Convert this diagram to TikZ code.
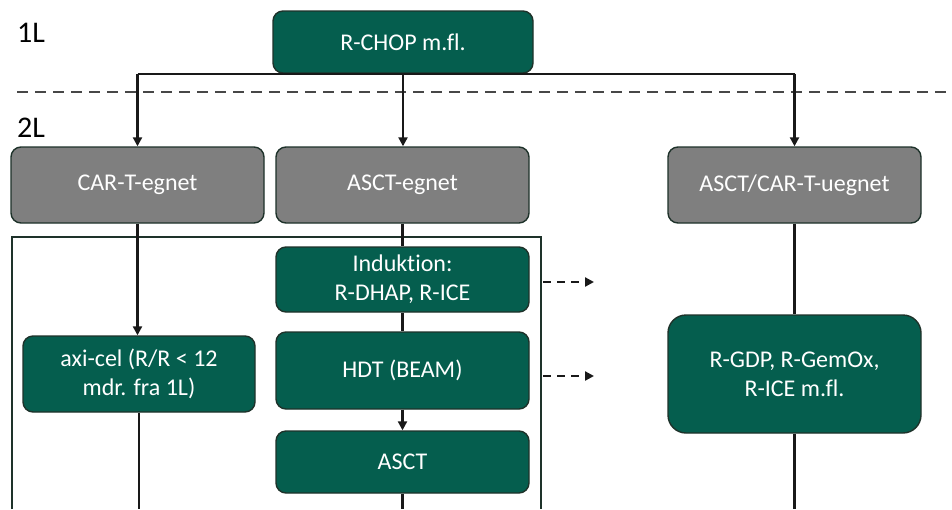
\documentclass[tikz,border=0pt]{standalone}
\usepackage{fontspec}
\setmainfont{Carlito}[Ligatures=NoCommon]
\usetikzlibrary{arrows.meta}
\definecolor{boxgreen}{RGB}{5,94,78}
\definecolor{boxgray}{RGB}{127,127,127}
\definecolor{edgedark}{RGB}{30,50,42}
\definecolor{linedark}{RGB}{25,25,25}
\tikzset{
  greenbox/.style={draw=edgedark, line width=1.4pt, fill=boxgreen, rounded corners=10pt,
    text=white, align=center, inner sep=2pt, font=\fontsize{24}{29}\selectfont},
  graybox/.style={draw=edgedark, line width=1.4pt, fill=boxgray, rounded corners=10pt,
    text=white, align=center, inner sep=2pt, font=\fontsize{24}{29}\selectfont},
  conn/.style={draw=linedark, line width=2.2pt},
  arr/.style={conn, -{Triangle[width=9pt,length=9pt]}},
  darr/.style={conn, dashed, dash pattern=on 8pt off 6pt, -{Triangle[width=9pt,length=9pt]}},
  level/.style={font=\fontsize{30}{33}\selectfont, text=black, anchor=west, inner sep=0pt},
}
\begin{document}
\begin{tikzpicture}[x=1pt,y=-1pt]
\useasboundingbox[fill=white] (0,0) rectangle (952,509);
% level labels
\node[level] (l1) at (17,33) {1L};
\node[level] (l2) at (17,128) {2L};
% dashed level separator
\coordinate (sepL) at (17,92);
\coordinate (sepR) at (952,92);
\draw[conn, dashed, dash pattern=on 11pt off 7pt, line width=1.8pt, draw=linedark!80] (sepL) -- (sepR);
% outlined group
\coordinate (gBL) at (12,509);
\coordinate (gTL) at (12,237);
\coordinate (gTR) at (541,237);
\coordinate (gBR) at (541,509);
\draw[draw=edgedark, line width=1.8pt] (gBL) -- (gTL) -- (gTR) -- (gBR);
% nodes
\node[greenbox, minimum width=260pt, minimum height=62pt] (rchop) at (403,42) {R-CHOP m.fl.};
\node[graybox, minimum width=253pt, minimum height=76pt] (car) at (137.5,185) {CAR-T-egnet};
\node[graybox, minimum width=253pt, minimum height=76pt] (asctE) at (402.5,185) {ASCT-egnet};
\node[graybox, minimum width=253pt, minimum height=76pt] (ueg) at (794.5,185) {ASCT/CAR-T-uegnet};
\node[greenbox, minimum width=253pt, minimum height=65pt] (ind) at (402.5,279.5) {Induktion:\\R-DHAP, R-ICE};
\node[greenbox, minimum width=253pt, minimum height=77pt] (hdt) at (402.5,370.5) {HDT (BEAM)};
\node[greenbox, minimum width=253pt, minimum height=62pt] (asct) at (402.5,462) {ASCT};
\node[greenbox, minimum width=232pt, minimum height=76pt] (axi) at (139,374) {axi-cel (R/R < 12\\mdr. fra 1L)};
\node[greenbox, rounded corners=18pt, minimum width=253pt, minimum height=118pt] (rgdp) at (794.5,374) {R-GDP, R-GemOx,\\R-ICE m.fl.};
% connectors from R-CHOP
\draw[conn] (rchop.south -| car.north) -- (rchop.south -| ueg.north);
\draw[arr] (rchop.south -| car.north) -- (car.north);
\draw[arr] (rchop.south) -- (rchop.south |- asctE.north);
\draw[arr] (rchop.south -| ueg.north) -- (ueg.north);
% CAR-T branch
\draw[arr] (car.south) -- (car.south |- axi.north);
\coordinate (bot) at (0,509);
\draw[conn] (axi.south) -- (axi.south |- bot);
% ASCT branch
\draw[conn] (asctE.south) -- (ind.north);
\draw[conn] (ind.south) -- (hdt.north);
\draw[arr] (hdt.south) -- (asct.north);
\draw[conn] (asct.south) -- (asct.south |- bot);
% unfit branch
\draw[conn] (ueg.south) -- (rgdp.north);
\draw[conn] (rgdp.south) -- (rgdp.south |- bot);
% dashed arrows
\coordinate (d1s) at (543,282);
\coordinate (d1e) at (594,282);
\coordinate (d2s) at (543,376);
\coordinate (d2e) at (594,376);
\draw[darr] (d1s) -- (d1e);
\draw[darr] (d2s) -- (d2e);
\end{tikzpicture}
\end{document}
